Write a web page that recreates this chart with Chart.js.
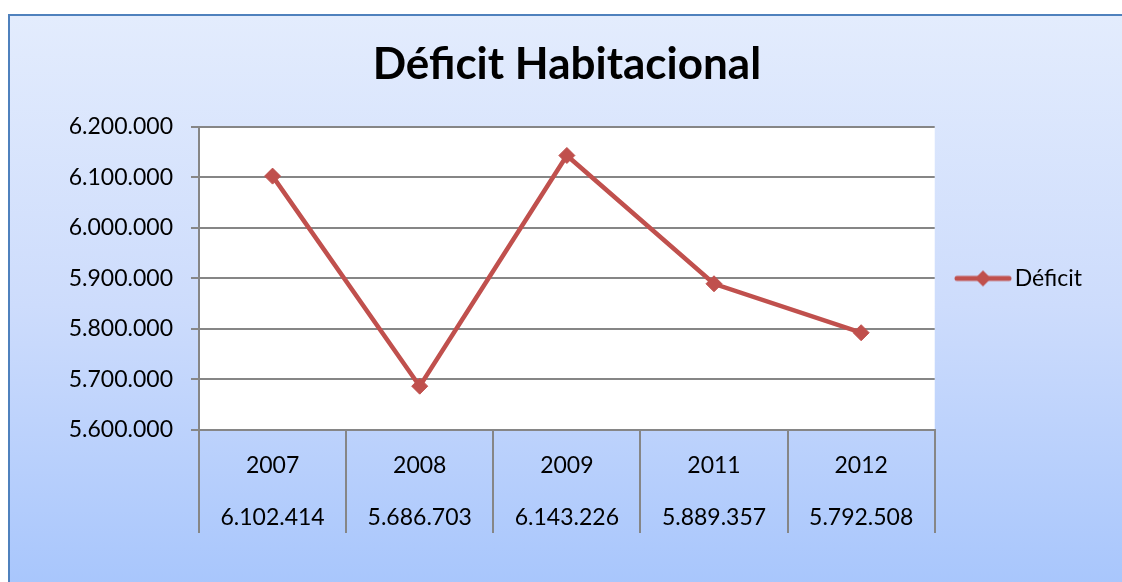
<!DOCTYPE html>
<html>
<head>
<meta charset="utf-8">
<title>Déficit Habitacional</title>
<script src="https://cdn.jsdelivr.net/npm/chart.js"></script>
<style>
    html, body { margin: 0; padding: 0; background: #fff; overflow: hidden; }
    .wrap { position: relative; width: 1122px; height: 582px; overflow: hidden; }
    .frame {
        position: absolute; left: 8px; top: 14px; width: 1200px; height: 600px;
        border: 2px solid #4f81bd;
        background: linear-gradient(to bottom, #e3ecfd 0px, #cddcfc 290px, #a8c6fc 570px, #a6c4fc 600px);
    }
    .chart-box { position: absolute; left: 0; top: 0; width: 1122px; height: 582px; }
</style>
</head>
<body>
<div class="wrap">
    <div class="frame"></div>
    <div class="chart-box"><canvas id="deficitChart"></canvas></div>
</div>
<script>
// --- Data ---
const years = ['2007', '2008', '2009', '2011', '2012'];
const deficitValues = [6102414, 5686703, 6143226, 5889357, 5792508];
const yTicks = [5600000, 5700000, 5800000, 5900000, 6000000, 6100000, 6200000];

const lineColor = '#c0504d';
const gridColor = '#868686';

// 6102414 -> "6.102.414"
function fmt(n) {
    return String(n).replace(/\B(?=(\d{3})+(?!\d))/g, '.');
}

// Data table under the axis: year on the first line, value on the second
const tableLabels = years.map((y, i) => [y, fmt(deficitValues[i])]);

// Legend icon: line with a diamond (Excel style). The image is centred on the
// legend box, so it gets some empty room on the left to sit where we want it.
const legendIcon = document.createElement('canvas');
legendIcon.width = 66;
legendIcon.height = 18;
(function () {
    const g = legendIcon.getContext('2d');
    g.strokeStyle = lineColor;
    g.lineWidth = 5;
    g.lineCap = 'round';
    g.beginPath(); g.moveTo(11, 9); g.lineTo(63, 9); g.stroke();
    g.fillStyle = lineColor;
    g.beginPath(); g.moveTo(37, 1); g.lineTo(45, 9); g.lineTo(37, 17); g.lineTo(29, 9); g.closePath(); g.fill();
})();

// White plot area
const plotBackground = {
    id: 'plotBackground',
    beforeDraw(chart) {
        const { ctx, chartArea: a } = chart;
        ctx.save();
        ctx.fillStyle = '#ffffff';
        ctx.fillRect(a.left, a.top, a.right - a.left, a.bottom - a.top);
        ctx.restore();
    }
};

Chart.defaults.font.family = 'Lato';
Chart.defaults.color = '#000';

new Chart(document.getElementById('deficitChart'), {
    type: 'line',
    data: {
        labels: tableLabels,
        datasets: [{
            label: 'Déficit',
            data: deficitValues,
            borderColor: lineColor,
            backgroundColor: lineColor,
            borderWidth: 4.5,
            tension: 0,
            pointStyle: 'rectRot',
            pointRadius: 8,
            pointBackgroundColor: lineColor,
            pointBorderColor: lineColor,
            pointBorderWidth: 1
        }]
    },
    options: {
        responsive: true,
        maintainAspectRatio: false,
        animation: false,
        layout: { padding: { left: 0, top: 0, right: 30, bottom: 39 } },
        plugins: {
            title: {
                display: true,
                text: 'Déficit Habitacional',
                fullSize: false,
                font: { size: 44, weight: 'bold' },
                color: '#000',
                padding: { top: 38, bottom: 36 }
            },
            legend: {
                position: 'right',
                fullSize: false,
                labels: {
                    usePointStyle: true,
                    pointStyle: legendIcon,
                    pointStyleWidth: 48.5,
                    boxHeight: 18,
                    padding: 20,
                    font: { size: 23 },
                    color: '#000'
                }
            },
            tooltip: { enabled: false }
        },
        scales: {
            x: {
                offset: true,
                afterFit(scale) { scale.height = 113; },
                grid: {
                    offset: true,
                    drawOnChartArea: false,
                    tickLength: 103,
                    color: gridColor,
                    lineWidth: 2
                },
                border: { color: gridColor, width: 2 },
                ticks: {
                    padding: -93,
                    maxRotation: 0,
                    autoSkip: false,
                    font: { size: 23, lineHeight: 52 / 23 }
                }
            },
            y: {
                min: yTicks[0],
                max: yTicks[yTicks.length - 1],
                afterFit(scale) { scale.width = 199; },
                afterBuildTicks(scale) { scale.ticks = yTicks.map(v => ({ value: v })); },
                grid: { color: gridColor, lineWidth: 2, tickLength: 8 },
                border: { color: gridColor, width: 2 },
                ticks: {
                    padding: 18,
                    font: { size: 23 },
                    callback: v => fmt(v)
                }
            }
        }
    },
    plugins: [plotBackground]
});
</script>
</body>
</html>
